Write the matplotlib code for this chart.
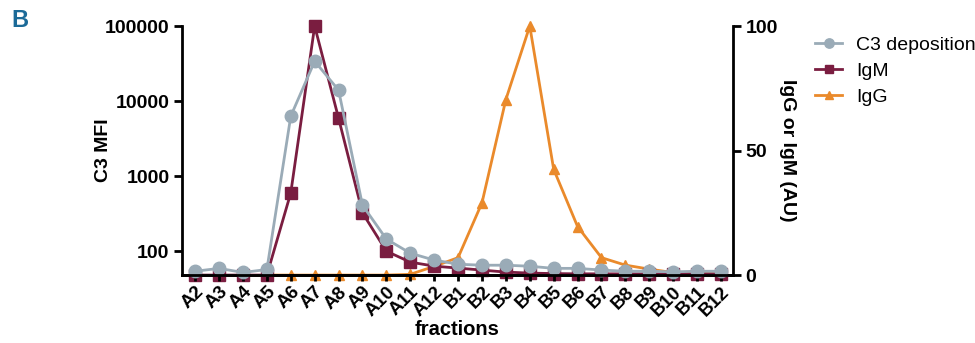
import matplotlib
matplotlib.use('Agg')
import matplotlib.pyplot as plt
import numpy as np

plt.rcParams['font.family'] = ['Liberation Sans', 'DejaVu Sans']

fractions = ['A2', 'A3', 'A4', 'A5', 'A6', 'A7', 'A8', 'A9', 'A10', 'A11', 'A12',
             'B1', 'B2', 'B3', 'B4', 'B5', 'B6', 'B7', 'B8', 'B9', 'B10', 'B11', 'B12']
c3_mfi = [54, 59, 52, 57, 6300, 34000, 14000, 410, 145, 94, 76,
          67, 65, 65, 63, 59, 59, 56, 54, 54, 53, 54, 54]
igm_au = [0, 0, 0, 0, 33, 100, 63, 25, 9.6, 5.2, 3.6,
          2.8, 2.0, 1.2, 0.8, 0.6, 0.5, 0.5, 0.5, 0.5, 0.5, 0.5, 0.5]
igg_au = [np.nan, np.nan, np.nan, 0, 0, 0, 0, 0, 0, 0.3, 3.5,
          7, 29, 70.5, 100, 42.5, 19.5, 7, 4, 2.4, 1, 0.8, 0.5]

c_c3 = '#9aabb7'
c_igm = '#7a1d40'
c_igg = '#ea8a2b'

x = np.arange(len(fractions))

fig = plt.figure(figsize=(9.75, 3.43), dpi=100)
ax = fig.add_axes([0.1867, 0.198, 0.565, 0.726])
ax2 = ax.twinx()

l3, = ax.plot(x, c3_mfi, color=c_c3, marker='o', markersize=9, linewidth=2,
              label='C3 deposition', clip_on=False)
lm, = ax2.plot(x, igm_au, color=c_igm, marker='s', markersize=8, linewidth=2,
               label='IgM', clip_on=False, zorder=3)
lg, = ax2.plot(x, igg_au, color=c_igg, marker='^', markersize=7, linewidth=2,
               label='IgG', clip_on=False, zorder=2)

ax.set_zorder(ax2.get_zorder() + 1)
ax.patch.set_visible(False)

ax.set_yscale('log')
ax.set_ylim(48, 100000)
ax.set_yticks([100, 1000, 10000, 100000])
ax.set_yticklabels(['100', '1000', '10000', '100000'])
ax.yaxis.set_minor_locator(matplotlib.ticker.NullLocator())
ax2.set_ylim(0, 100)
ax2.set_yticks([0, 50, 100])
ax.set_xlim(-0.55, 22.5)

for a in (ax, ax2):
    a.spines['top'].set_visible(False)
    for s in a.spines.values():
        s.set_linewidth(2)
        s.set_color('black')
    a.tick_params(width=2, length=6, labelsize=14, pad=3)
ax.tick_params(axis='x', length=4, pad=2)
ax.spines['right'].set_visible(False)
ax2.spines['left'].set_visible(False)

ax.set_xticks(x)
ax.set_xticklabels(fractions, rotation=45, ha='right', rotation_mode='anchor',
                   fontsize=13.5, fontweight='bold')
for t in ax.get_yticklabels() + ax2.get_yticklabels():
    t.set_fontweight('bold')

ax.set_ylabel('C3 MFI', fontsize=14, fontweight='bold')
ax.yaxis.set_label_coords(-0.128, 0.5)
ax2.set_ylabel('IgG or IgM (AU)', fontsize=14, fontweight='bold', rotation=270, va='center')
ax2.yaxis.set_label_coords(1.1, 0.5)
ax.set_xlabel('fractions', fontsize=14.5, fontweight='bold', labelpad=0)

fig.legend(handles=[l3, lm, lg], loc='upper left', bbox_to_anchor=(0.818, 0.945),
           frameon=False, fontsize=14, handlelength=1.4, labelspacing=0.42,
           handletextpad=0.7, markerscale=0.75)

fig.text(0.012, 0.975, 'B', color='#1b6a98', fontsize=17, fontweight='bold', va='top',
         family=['Liberation Sans Narrow', 'Liberation Sans'])

fig.savefig('out.png', dpi=100)
